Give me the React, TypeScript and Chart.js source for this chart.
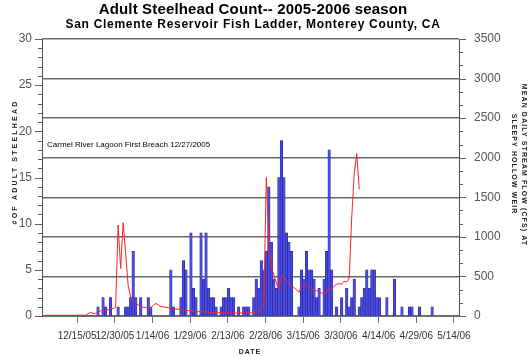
import React, { useEffect, useRef } from "react";
import { Chart, registerables } from "chart.js";
Chart.register(...registerables);

// Day 0 = 12/1/05
const TITLE = "Adult Steelhead Count-- 2005-2006 season";
const SUBTITLE = "San Clemente Reservoir Fish Ladder, Monterey County, CA";
const LEFT_TITLE = "#OF ADULT STEELHEAD";
const RIGHT_TITLE_1 = "MEAN DAILY STREAM FLOW (CFS) AT";
const RIGHT_TITLE_2 = "SLEEPY HOLLOW WEIR";
const X_TITLE = "DATE";
const NOTE = "Carmel River Lagoon First Breach 12/27/2005";
const NOTE_DAY = 2;
const NOTE_LEVEL = 18.5;

const dateTickDays = [14, 29, 44, 59, 74, 89, 104, 119, 134, 149, 164];
const dateTickLabels = ["12/15/05", "12/30/05", "1/14/06", "1/29/06", "2/13/06", "2/28/06", "3/15/06", "3/30/06", "4/14/06", "4/29/06", "5/14/06"];
const daySpan = 166;

// Adult steelhead counted per day (starting 12/1/05)
const fishPerDay = [
  0, 0, 0, 0, 0, 0, 0, 0, 0, 0,
  0, 0, 0, 0, 0, 0, 0, 0, 0, 0,
  0, 1, 0, 2, 1, 0, 2, 0, 0, 1,
  0, 0, 1, 1, 2, 7, 2, 0, 2, 0,
  0, 2, 1, 0, 0, 0, 0, 0, 0, 0,
  5, 1, 0, 0, 2, 6, 5, 0, 9, 3,
  2, 0, 9, 4, 9, 3, 2, 2, 1, 0,
  1, 2, 2, 3, 2, 2, 0, 1, 0, 1,
  1, 1, 0, 2, 4, 3, 6, 5, 7, 14,
  8, 4, 3, 15, 19, 15, 9, 8, 7, 0,
  0, 1, 5, 4, 7, 5, 5, 4, 2, 3,
  0, 4, 7, 18, 5, 0, 1, 0, 2, 0,
  3, 1, 2, 4, 0, 1, 2, 3, 5, 3,
  5, 5, 2, 2, 0, 0, 2, 0, 0, 4,
  0, 0, 1, 0, 0, 1, 1, 0, 0, 1,
  0, 0, 0, 0, 1,
];

// Mean daily stream flow (cfs) at Sleepy Hollow Weir, from 12/1/05
const flowPerDay = [
  10, 10, 10, 10, 10, 10, 10, 10, 10, 10,
  10, 10, 10, 10, 10, 10, 10, 30, 45, 35,
  30, 50, 65, 70, 72, 80, 90, 95, 110, 1150,
  600, 1180, 790, 380, 240, 190, 160, 140, 120, 110,
  105, 100, 100, 130, 160, 140, 120, 115, 110, 105,
  95, 90, 88, 85, 80, 75, 70, 68, 65, 62,
  60, 58, 55, 52, 50, 48, 46, 44, 42, 40,
  40, 40, 38, 38, 38, 38, 38, 38, 38, 38,
  38, 38, 40, 42, 45, 55, 100, 150, 1750, 1000,
  620, 520, 420, 330, 520, 480, 440, 410, 390, 360,
  330, 300, 380, 400, 390, 370, 340, 330, 320, 300,
  290, 280, 300, 360, 340, 380, 400, 410, 400, 440,
  430, 480, 1250, 1800, 2050, 1600,
];

const countTicks = [0, 5, 10, 15, 20, 25, 30];
const flowTicks = [0, 500, 1000, 1500, 2000, 2500, 3000, 3500];

// where inside a day slot the marks are placed
const SLOT_SHIFT = 1.3;

const FONT = '"Liberation Sans", Arial, sans-serif';

const decor = {
  id: "decor",
  afterDraw(chart: any) {
    const ctx = chart.ctx;
    const { left, right } = chart.chartArea;
    const ys = chart.scales.y;
    const y1s = chart.scales.y1;
    const xs = chart.scales.x;
    ctx.save();
    ctx.strokeStyle = "#606060";
    ctx.lineWidth = 1;
    for (let v = 0; v <= 30; v++) {
      const py = Math.round(ys.getPixelForValue(v)) + 0.5;
      const len = v % 5 === 0 ? 7 : 4;
      ctx.beginPath();
      ctx.moveTo(left - len, py);
      ctx.lineTo(left, py);
      ctx.stroke();
    }
    for (let i = 0; i <= 21; i++) {
      const v = (i * 500) / 3;
      const py = Math.round(y1s.getPixelForValue(v)) + 0.5;
      const len = i % 3 === 0 ? 7 : 4;
      ctx.beginPath();
      ctx.moveTo(right, py);
      ctx.lineTo(right + len, py);
      ctx.stroke();
    }
    ctx.fillStyle = "#000";
    ctx.textAlign = "center";
    ctx.textBaseline = "middle";
    ctx.font = `bold 15px ${FONT}`;
    (ctx as any).letterSpacing = "0.15px";
    ctx.fillText(TITLE, 253, 10);
    ctx.font = `bold 12px ${FONT}`;
    (ctx as any).letterSpacing = "0.7px";
    ctx.fillText(SUBTITLE, 253, 25);

    ctx.font = `8px ${FONT}`;
    (ctx as any).letterSpacing = "0px";
    ctx.textAlign = "left";
    ctx.fillText(NOTE, xs.getPixelForValue(NOTE_DAY), ys.getPixelForValue(NOTE_LEVEL));

    ctx.textAlign = "center";
    ctx.font = `bold 7px ${FONT}`;
    (ctx as any).letterSpacing = "1px";
    ctx.fillStyle = "#222";
    ctx.fillText(X_TITLE, 250, 352);

    (ctx as any).letterSpacing = "2.2px";
    ctx.save();
    ctx.translate(15, 162);
    ctx.rotate(-Math.PI / 2);
    ctx.fillText(LEFT_TITLE, 0, 0);
    ctx.restore();

    (ctx as any).letterSpacing = "1.1px";
    ctx.save();
    ctx.translate(524, 165);
    ctx.rotate(Math.PI / 2);
    ctx.fillText(RIGHT_TITLE_1, 0, 0);
    ctx.restore();
    ctx.save();
    ctx.translate(514, 164);
    ctx.rotate(Math.PI / 2);
    ctx.fillText(RIGHT_TITLE_2, 0, 0);
    ctx.restore();
    ctx.restore();
  },
};

export default function App() {
  const ref = useRef<HTMLCanvasElement | null>(null);
  useEffect(() => {
    document.body.style.margin = "0";
    const canvas = ref.current;
    if (!canvas) return;
    const barData = fishPerDay
      .map((v, i) => ({ x: i + SLOT_SHIFT, y: v }))
      .filter((p) => p.y > 0);
    const lineData = flowPerDay.map((v, i) => ({ x: i + SLOT_SHIFT, y: v }));
    const chart = new Chart(canvas, {
      type: "bar",
      data: {
        datasets: [
          {
            type: "line",
            label: "Flow",
            data: lineData,
            borderColor: "#ff2020",
            borderWidth: 1,
            pointRadius: 0,
            tension: 0,
            yAxisID: "y1",
            xAxisID: "x",
            order: 0,
          } as any,
          {
            type: "bar",
            label: "Steelhead",
            data: barData,
            backgroundColor: "#4a4ae4",
            borderColor: "#22228a",
            borderWidth: 0.6,
            borderSkipped: "start",
            barPercentage: 1,
            categoryPercentage: 1,
            yAxisID: "y",
            xAxisID: "x",
            order: 1,
          } as any,
        ],
      },
      options: {
        responsive: false,
        animation: false,
        devicePixelRatio: 1,
        layout: { padding: { top: 39, left: 0, right: 0, bottom: 0 } },
        plugins: {
          legend: { display: false },
          tooltip: { enabled: false },
          title: { display: false },
        },
        scales: {
          x: {
            type: "linear",
            min: 0,
            max: daySpan,
            offset: false,
            afterBuildTicks: (s: any) => {
              s.ticks = dateTickDays.map((v) => ({ value: v }));
            },
            afterFit: (s: any) => {
              s.height = 41;
            },
            grid: { offset: false, drawOnChartArea: false, drawTicks: true, tickLength: 7, color: "#707070", lineWidth: 1 },
            border: { display: true, color: "#707070", width: 1 },
            ticks: {
              autoSkip: false,
              maxRotation: 0,
              minRotation: 0,
              padding: 7,
              color: "#333",
              font: { family: FONT, size: 10 },
              callback: (v: any) => {
                const i = dateTickDays.indexOf(Number(v));
                return i >= 0 ? dateTickLabels[i] : "";
              },
            },
          },
          y: {
            type: "linear",
            position: "left",
            min: 0,
            max: 30,
            afterBuildTicks: (s: any) => {
              s.ticks = countTicks.map((v) => ({ value: v }));
            },
            afterFit: (s: any) => {
              s.width = 42;
            },
            grid: { display: false, drawTicks: false },
            border: { display: true, color: "#505050", width: 1 },
            ticks: { padding: 10, color: "#555", font: { family: FONT, size: 12 }, callback: (v: any) => String(v) },
          },
          y1: {
            type: "linear",
            position: "right",
            min: 0,
            max: 3500,
            afterBuildTicks: (s: any) => {
              s.ticks = flowTicks.map((v) => ({ value: v }));
            },
            afterFit: (s: any) => {
              s.width = 69;
            },
            grid: { drawOnChartArea: true, drawTicks: false, color: "#6a6a6a", lineWidth: 1.5 },
            border: { display: true, color: "#505050", width: 1 },
            ticks: { padding: 15, color: "#555", font: { family: FONT, size: 12 }, callback: (v: any) => String(v) },
          },
        },
      } as any,
      plugins: [decor],
    });
    return () => chart.destroy();
  }, []);
  return (
    <div style={{ position: "absolute", left: 0, top: 0, width: 528, height: 357, background: "#fff" }}>
      <canvas ref={ref} width={528} height={357} style={{ width: 528, height: 357, display: "block" }} />
    </div>
  );
}
